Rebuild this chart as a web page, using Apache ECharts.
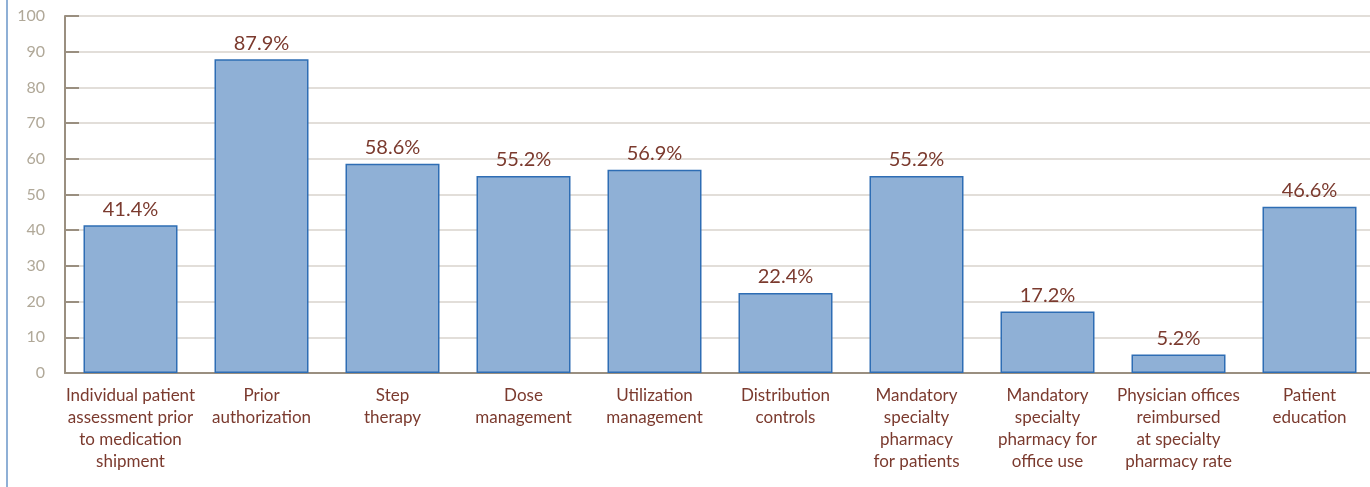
<!DOCTYPE html>
<html><head><meta charset="utf-8">
<script src="https://cdn.jsdelivr.net/npm/echarts@6/dist/echarts.min.js"></script>
<style>html,body{margin:0;padding:0;background:#fff;overflow:hidden;width:1370px;height:487px}#c{width:1390px;height:487px}
#bl{position:absolute;left:6px;top:0;width:2px;height:487px;background:#8fb0d6;z-index:2}</style>
</head><body><div id="bl"></div><div id="c"></div>
<script>
const categories = ["Individual patient\nassessment prior\nto medication\nshipment","Prior\nauthorization","Step\ntherapy","Dose\nmanagement","Utilization\nmanagement","Distribution\ncontrols","Mandatory\nspecialty\npharmacy\nfor patients","Mandatory\nspecialty\npharmacy for\noffice use","Physician offices\nreimbursed\nat specialty\npharmacy rate","Patient\neducation"];
const values = [41.4, 87.9, 58.6, 55.2, 56.9, 22.4, 55.2, 17.2, 5.2, 46.6];
const chart = echarts.init(document.getElementById('c'));
chart.setOption({
  animation:false,
  grid:{left:65,width:1310,top:16,bottom:114,containLabel:false},
  xAxis:{type:'category',data:categories,
    axisLine:{lineStyle:{color:'#9a8f80',width:2}},
    axisTick:{show:false},
    axisLabel:{color:'#7b3a2e',fontFamily:'Lato',fontSize:17,lineHeight:22,margin:12,interval:0}},
  yAxis:{type:'value',min:0,max:100,interval:10,
    axisLine:{show:true,lineStyle:{color:'#9a8f80',width:2}},
    axisTick:{show:true,inside:true,length:14,lineStyle:{color:'#9a8f80',width:2}},
    splitLine:{lineStyle:{color:'#d8d3cc',width:1.5}},
    axisLabel:{color:'#b0a898',fontFamily:'Lato',fontSize:16,margin:20}},
  series:[{type:'bar',data:values,barWidth:94,
    itemStyle:{color:'#8fb0d6',borderColor:'#2e6db4',borderWidth:1.5},
    label:{show:true,position:'top',distance:6,formatter:p=>p.value.toFixed(1)+'%',
      color:'#7b3a2e',fontFamily:'Lato',fontSize:20}}]
});
</script></body></html>
